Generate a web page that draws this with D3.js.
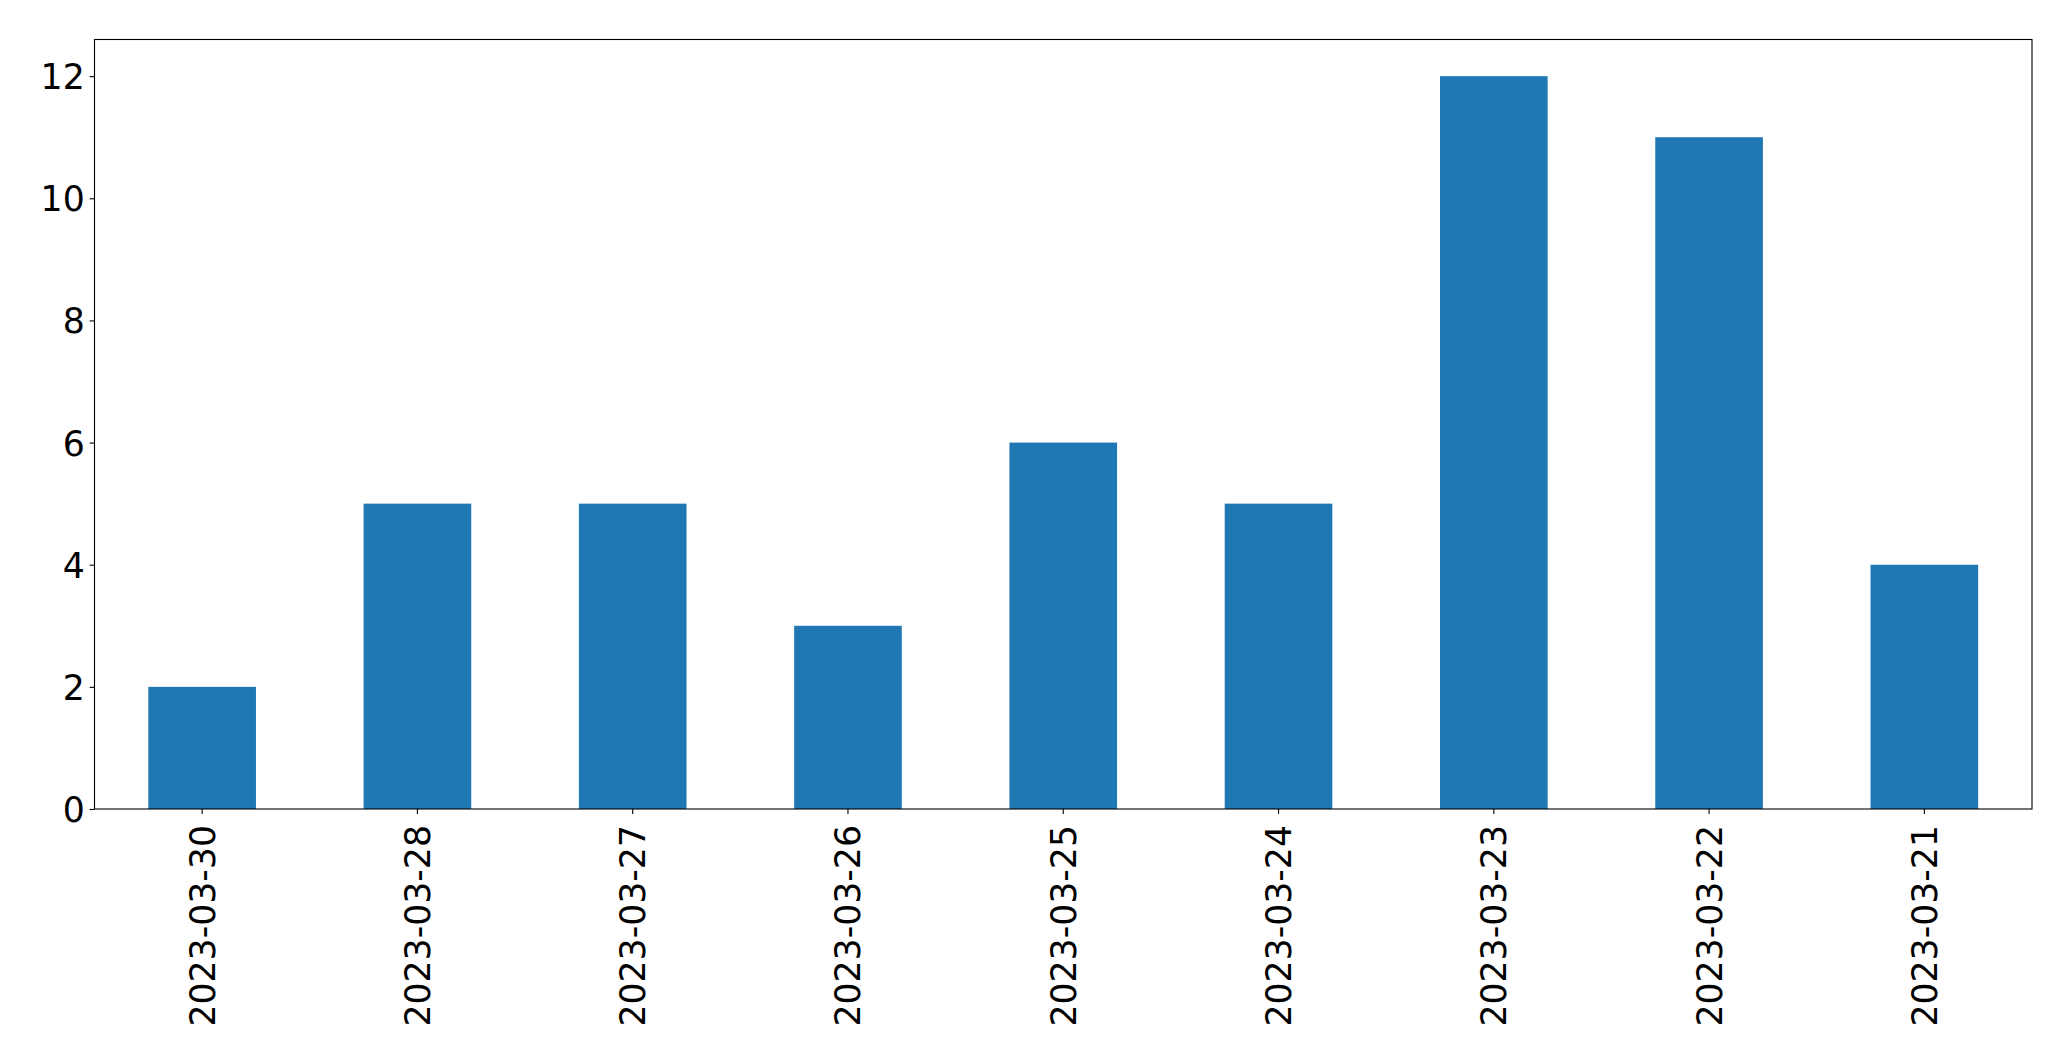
<!DOCTYPE html>
<html><head><meta charset="utf-8">
<script src="https://cdn.jsdelivr.net/npm/d3@7"></script>
<style>body{margin:0;background:#fff}svg{display:block}text{font-family:"DejaVu Sans";fill:#000}</style>
</head><body>
<script>
const categories = ["2023-03-30","2023-03-28","2023-03-27","2023-03-26","2023-03-25","2023-03-24","2023-03-23","2023-03-22","2023-03-21"];
const values = [2,5,5,3,6,5,12,11,4];
const yTicks = [0,2,4,6,8,10,12];

const W = 2071, H = 1061;
const m = {left:94.5, right:2032, top:39.5, bottom:809};
const svg = d3.select("body").append("svg").attr("width",W).attr("height",H);

const x = d3.scaleBand().domain(categories).range([m.left,m.right]).paddingInner(0.5).paddingOuter(0.25);
const y = d3.scaleLinear().domain([0,12.6]).range([m.bottom,m.top]);

svg.append("g").selectAll("rect").data(values).join("rect")
  .attr("x",(d,i)=>x(categories[i])).attr("width",x.bandwidth())
  .attr("y",d=>y(d)).attr("height",d=>y(0)-y(d)).attr("fill","#1f77b4");

const fs = 34.7;
const yAxis = svg.append("g").attr("transform",`translate(${m.left},0)`)
  .call(d3.axisLeft(y).tickValues(yTicks).tickSize(4.9).tickPadding(4.9).tickFormat(d3.format("d")));
yAxis.select(".domain").remove();
yAxis.selectAll("text").style("font-size",fs+"px").attr("dy","0.36em");
yAxis.selectAll("line").attr("stroke-width",1.1);

const xAxis = svg.append("g").attr("transform",`translate(0,${m.bottom})`)
  .call(d3.axisBottom(x).tickSize(4.9).tickPadding(0));
xAxis.select(".domain").remove();
xAxis.selectAll("line").attr("stroke-width",1.1);
xAxis.selectAll("text").style("font-size",fs+"px")
  .attr("transform","rotate(-90)").attr("text-anchor","end")
  .attr("x",-16).attr("y",0).attr("dy","0.36em");

svg.append("rect").attr("x",m.left).attr("y",m.top).attr("width",m.right-m.left).attr("height",m.bottom-m.top)
  .attr("fill","none").attr("stroke","#000").attr("stroke-width",1.1);
</script>
</body></html>
